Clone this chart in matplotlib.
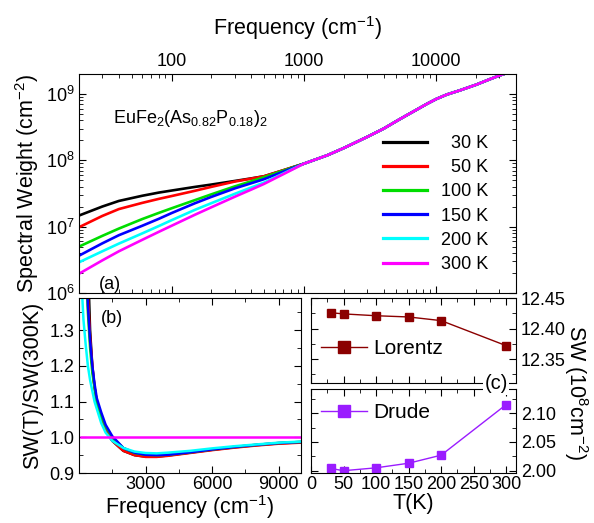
import numpy as np
import matplotlib
matplotlib.use("Agg")
from matplotlib import pyplot as plt
from matplotlib.ticker import MultipleLocator, LogLocator, NullFormatter, FormatStrFormatter

plt.rcParams['font.family'] = ['Liberation Sans', 'DejaVu Sans']
plt.rcParams['mathtext.default'] = 'regular'
plt.rcParams['xtick.direction'] = 'in'
plt.rcParams['ytick.direction'] = 'in'

# ---- panel (a): spectral weight vs frequency ----
temps = ['  30 K', '  50 K', '100 K', '150 K', '200 K', '300 K']
colors = ['black', 'red', '#00dd00', 'blue', 'cyan', 'magenta']

freq_low = [20, 30, 40, 60, 80, 100, 150, 200, 300, 400, 500, 700, 1000]
sw_30 = [1.47e7, 2.01e7, 2.44e7, 2.92e7, 3.26e7, 3.5e7, 3.97e7, 4.31e7, 4.88e7, 5.34e7, 5.75e7, 7.08e7, 8.9e7]
sw_50 = [9.8e6, 1.45e7, 1.84e7, 2.28e7, 2.62e7, 2.89e7, 3.47e7, 3.98e7, 4.78e7, 5.3e7, 5.75e7, 7.1e7, 8.9e7]
sw_100 = [5.0e6, 7.26e6, 9.35e6, 1.3e7, 1.61e7, 1.89e7, 2.51e7, 3.07e7, 4.04e7, 4.83e7, 5.57e7, 7.0e7, 8.9e7]
sw_150 = [3.65e6, 5.6e6, 7.43e6, 1.03e7, 1.31e7, 1.6e7, 2.25e7, 2.81e7, 3.77e7, 4.51e7, 5.2e7, 6.75e7, 8.9e7]
sw_200 = [2.9e6, 4.25e6, 5.55e6, 7.9e6, 1.02e7, 1.25e7, 1.79e7, 2.26e7, 3.12e7, 3.89e7, 4.62e7, 6.34e7, 8.9e7]
sw_300 = [1.95e6, 3.1e6, 4.25e6, 6.32e6, 8.34e6, 1.03e7, 1.51e7, 1.96e7, 2.82e7, 3.62e7, 4.41e7, 6.19e7, 8.9e7]

# above ~1000 cm-1 all temperatures practically coincide
freq_high = [1500, 2000, 3000, 4000, 5000, 6000, 7000, 8500, 10000, 12000, 15000,
             20000, 25000, 30000, 40000]
sw_high = [1.19e8, 1.53e8, 2.25e8, 3.0e8, 3.9e8, 4.8e8, 5.7e8, 7.1e8, 8.4e8, 9.8e8, 1.13e9,
           1.38e9, 1.65e9, 1.9e9, 2.3e9]

# ---- panel (b): SW(T)/SW(300K) ----
freq_b = [100, 200, 300, 400, 500, 600, 700, 800, 1000, 1200, 1500, 2000, 2500,
          3000, 3500, 4000, 5000, 6000, 7000, 8000, 9000, 10000]
r_30 = [4.0, 2.6, 1.85, 1.5, 1.3, 1.2, 1.14, 1.1, 1.05, 1.02, 0.99, 0.962, 0.95,
        0.946, 0.946, 0.949, 0.957, 0.965, 0.972, 0.978, 0.983, 0.986]
r_50 = [3.2, 2.1, 1.6, 1.4, 1.28, 1.2, 1.14, 1.1, 1.05, 1.02, 0.99, 0.962, 0.95,
        0.945, 0.945, 0.948, 0.956, 0.964, 0.971, 0.977, 0.982, 0.985]
r_100 = [2.4, 1.75, 1.5, 1.35, 1.25, 1.18, 1.14, 1.1, 1.06, 1.03, 1.0, 0.97, 0.956,
         0.951, 0.95, 0.951, 0.958, 0.966, 0.973, 0.979, 0.984, 0.987]
r_150 = [2.5, 1.8, 1.55, 1.37, 1.27, 1.2, 1.15, 1.11, 1.07, 1.035, 1.003, 0.97, 0.957,
         0.951, 0.95, 0.951, 0.958, 0.966, 0.973, 0.979, 0.984, 0.987]
r_200 = [1.45, 1.33, 1.26, 1.2, 1.16, 1.13, 1.1, 1.08, 1.04, 1.013, 0.99, 0.97, 0.96,
         0.956, 0.955, 0.957, 0.962, 0.969, 0.975, 0.98, 0.985, 0.988]
r_300 = [1.0] * len(freq_b)

# ---- panel (c): Lorentz and Drude spectral weights ----
T_c = [30, 50, 100, 150, 200, 300]
sw_lorentz = [12.426, 12.424, 12.421, 12.419, 12.413, 12.372]
sw_drude = [2.004, 2.000, 2.005, 2.013, 2.027, 2.115]

fig = plt.figure(figsize=(5.94, 5.23), dpi=100)

# panel (a)
ax_a = fig.add_axes([0.1330, 0.4398, 0.7357, 0.4187])
sw_all = [sw_30, sw_50, sw_100, sw_150, sw_200, sw_300]
for lab, col, sw in zip(temps, colors, sw_all):
    ax_a.plot(freq_low + freq_high, sw + sw_high, color=col, lw=1.9, label=lab)
ax_a.set_xscale('log')
ax_a.set_yscale('log')
ax_a.set_xlim(20, 40000)
ax_a.set_ylim(1e6, 2e9)
ax_a.tick_params(which='both', top=True, right=True, labeltop=True, labelbottom=False,
                 labelsize=13, pad=3)
ax_a.tick_params(which='major', length=5)
ax_a.tick_params(which='minor', length=3)
ax_a.xaxis.set_minor_locator(LogLocator(base=10, subs=np.arange(2, 10), numticks=20))
ax_a.xaxis.set_minor_formatter(NullFormatter())
ax_a.yaxis.set_minor_locator(LogLocator(base=10, subs=np.arange(2, 10), numticks=20))
ax_a.yaxis.set_minor_formatter(NullFormatter())
ax_a.set_xticks([100, 1000, 10000])
ax_a.set_xticklabels(['100', '1000', '10000'])
ax_a.xaxis.set_label_position('top')
ax_a.set_xlabel('Frequency (cm$^{-1}$)', fontsize=15.5, labelpad=13)
ax_a.set_ylabel('Spectral Weight (cm$^{-2}$)', fontsize=15.5, labelpad=4)
ax_a.text(0.078, 0.775, 'EuFe$_2$(As$_{0.82}$P$_{0.18}$)$_2$', transform=ax_a.transAxes,
          fontsize=13)
ax_a.text(0.045, 0.02, '(a)', transform=ax_a.transAxes, fontsize=13)
leg = ax_a.legend(loc='upper left', bbox_to_anchor=(0.68, 0.755), frameon=False,
                  fontsize=13, handlelength=2.4, handletextpad=0.8,
                  labelspacing=0.4, borderaxespad=0)
for h in leg.get_lines():
    h.set_linewidth(2.3)

# panel (b)
ax_b = fig.add_axes([0.1330, 0.0956, 0.3737, 0.3346])
r_all = [r_30, r_50, r_100, r_150, r_200, r_300]
for col, r in zip(colors, r_all):
    ax_b.plot(freq_b, r, color=col, lw=1.8)
ax_b.set_xlim(0, 10000)
ax_b.set_ylim(0.9, 1.39)
ax_b.set_xticks([3000, 6000, 9000])
ax_b.xaxis.set_minor_locator(MultipleLocator(1500))
ax_b.yaxis.set_major_locator(MultipleLocator(0.1))
ax_b.yaxis.set_minor_locator(MultipleLocator(0.05))
ax_b.tick_params(which='both', top=True, right=True, labelsize=13)
ax_b.tick_params(axis='x', pad=2)
ax_b.tick_params(which='major', length=5)
ax_b.tick_params(which='minor', length=3)
ax_b.set_xlabel('Frequency (cm$^{-1}$)', fontsize=15.5, labelpad=0)
ax_b.set_ylabel('SW(T)/SW(300K)', fontsize=15.5, labelpad=4)
ax_b.text(0.1, 0.86, '(b)', transform=ax_b.transAxes, fontsize=13)

# panel (c)
ax_c1 = fig.add_axes([0.5236, 0.2677, 0.3451, 0.1625])
ax_c2 = fig.add_axes([0.5236, 0.0956, 0.3451, 0.1606])
ax_c1.plot(T_c, sw_lorentz, color='#8b0000', lw=1, marker='s', ms=5.5, label='Lorentz')
ax_c2.plot(T_c, sw_drude, color='#9a1cff', lw=1, marker='s', ms=5.5, label='Drude')
ax_c1.set_ylim(12.311, 12.45)
ax_c2.set_ylim(1.996, 2.142)
for ax in (ax_c1, ax_c2):
    ax.set_xlim(0, 315)
    ax.xaxis.set_major_locator(MultipleLocator(50))
    ax.xaxis.set_minor_locator(MultipleLocator(25))
    ax.yaxis.set_major_locator(MultipleLocator(0.05))
    ax.yaxis.set_minor_locator(MultipleLocator(0.025))
    ax.yaxis.tick_right()
    ax.tick_params(which='both', top=True, left=True, right=True, labelsize=13,
                   labelleft=False, labelright=True)
    ax.tick_params(axis='x', pad=2)
    ax.tick_params(which='major', length=5)
    ax.tick_params(which='minor', length=3)
    ax.yaxis.set_major_formatter(FormatStrFormatter('%.2f'))
    ax.legend(loc='center left', bbox_to_anchor=(0.0, 0.4 if ax is ax_c1 else 0.72),
              frameon=False, fontsize=15, handlelength=2.2, handletextpad=0.3,
              markerscale=1.5, borderaxespad=0.1)
ax_c1.tick_params(labelbottom=False)
ax_c2.set_xlabel('T(K)', fontsize=15.5, labelpad=0)
fig.text(0.970, 0.249, 'SW (10$^8$cm$^{-2}$)', rotation=270, fontsize=15.5,
         ha='center', va='center')
fig.text(0.835, 0.266, '(c)', fontsize=14.5, ha='center', va='center',
         bbox=dict(facecolor='white', edgecolor='none', pad=1))

fig.savefig('out.png', dpi=100)
